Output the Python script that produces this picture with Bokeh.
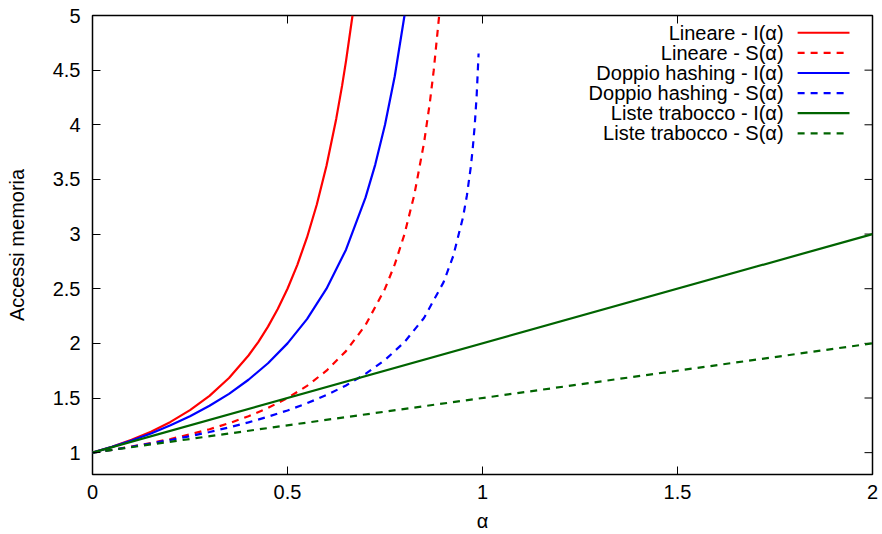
import math
from bokeh.plotting import figure
from bokeh.models import Label, FixedTicker, Range1d
from bokeh.embed import file_html
from bokeh.resources import INLINE

# ---- data ----
lin_I_a = [0, 0.05, 0.1, 0.15, 0.2, 0.25, 0.3, 0.35, 0.4, 0.425, 0.45, 0.475, 0.5, 0.525,
           0.55, 0.575, 0.6, 0.625, 0.64, 0.65, 0.6667]
lin_I_v = [1.0, 1.054, 1.117, 1.192, 1.281, 1.389, 1.520, 1.683, 1.889, 2.012, 2.153, 2.314,
           2.5, 2.716, 2.969, 3.268, 3.625, 4.056, 4.358, 4.582, 5.0]

lin_S_a = [0, 0.05, 0.1, 0.15, 0.2, 0.25, 0.3, 0.35, 0.4, 0.45, 0.5, 0.55, 0.6, 0.65, 0.7,
           0.75, 0.775, 0.8, 0.825, 0.85, 0.865, 0.875, 0.8889]
lin_S_v = [1.0, 1.026, 1.056, 1.088, 1.125, 1.167, 1.214, 1.269, 1.333, 1.409, 1.5, 1.611,
           1.75, 1.929, 2.167, 2.5, 2.722, 3.0, 3.357, 3.833, 4.204, 4.5, 5.0]

dh_I_a = [0, 0.05, 0.1, 0.15, 0.2, 0.25, 0.3, 0.35, 0.4, 0.45, 0.5, 0.55, 0.6, 0.65, 0.7,
          0.725, 0.75, 0.775, 0.8]
dh_I_v = [1.0, 1.053, 1.111, 1.176, 1.25, 1.333, 1.429, 1.538, 1.667, 1.818, 2.0, 2.222,
          2.5, 2.857, 3.333, 3.636, 4.0, 4.444, 5.0]

dh_S_a = [0, 0.05, 0.1, 0.15, 0.2, 0.25, 0.3, 0.35, 0.4, 0.45, 0.5, 0.55, 0.6, 0.65, 0.7,
          0.75, 0.8, 0.85, 0.9, 0.925, 0.95, 0.96, 0.97, 0.975, 0.98, 0.985, 0.99]
dh_S_v = [1.0, 1.026, 1.054, 1.084, 1.116, 1.151, 1.189, 1.231, 1.277, 1.329, 1.386, 1.452,
          1.527, 1.615, 1.720, 1.848, 2.012, 2.232, 2.558, 2.800, 3.153, 3.353, 3.615, 3.784,
          3.992, 4.264, 4.652]

lt_I_a = [0, 2]
lt_I_v = [1.0, 3.0]
lt_S_a = [0, 2]
lt_S_v = [1.0, 2.0]

x_ticks = [0, 0.5, 1, 1.5, 2]
x_tick_labels = ["0", "0.5", "1", "1.5", "2"]
y_ticks = [1, 1.5, 2, 2.5, 3, 3.5, 4, 4.5, 5]
y_tick_labels = ["1", "1.5", "2", "2.5", "3", "3.5", "4", "4.5", "5"]

series_names = ["Lineare - I(α)", "Lineare - S(α)", "Doppio hashing - I(α)",
                "Doppio hashing - S(α)", "Liste trabocco - I(α)", "Liste trabocco - S(α)"]

# ---- styles ----
RED, BLUE, GREEN = "#ff0000", "#0000ff", "#006400"
DASH = "7 6"
FONT = "Liberation Sans"
FS = "20px"
X_MIN, X_MAX, Y_MIN, Y_MAX = 0, 2, 0.8, 5
TICK = 8

p = figure(width=880, height=534, output_backend="svg", toolbar_location=None,
           x_range=Range1d(X_MIN, X_MAX), y_range=Range1d(Y_MIN, Y_MAX),
           min_border_left=92, min_border_right=8, min_border_top=15, min_border_bottom=60)
p.grid.visible = False
p.outline_line_color = "black"
p.outline_line_width = 1.5
p.background_fill_color = "white"
p.border_fill_color = "white"

def style_axis(ax, ticks, labels):
    ax.ticker = FixedTicker(ticks=ticks)
    ax.major_label_overrides = {t: l for t, l in zip(ticks, labels)}
    ax.major_tick_in = TICK
    ax.major_tick_out = 0
    ax.minor_tick_line_color = None
    ax.axis_line_color = None
    ax.major_tick_line_color = "black"
    ax.major_tick_line_width = 1
    ax.major_label_text_font = FONT
    ax.major_label_text_font_size = FS
    ax.major_label_text_color = "black"
    ax.axis_label_text_font = FONT
    ax.axis_label_text_font_size = FS
    ax.axis_label_text_font_style = "normal"
    ax.axis_label_text_color = "black"

style_axis(p.xaxis[0], x_ticks, x_tick_labels)
style_axis(p.yaxis[0], y_ticks, y_tick_labels)
p.xaxis[0].axis_label = "α"
p.yaxis[0].axis_label = "Accessi memoria"
p.xaxis[0].major_label_standoff = 10
p.yaxis[0].major_label_standoff = 12
p.xaxis[0].axis_label_standoff = 8
p.yaxis[0].axis_label_standoff = 22

# mirrored inward ticks on the top and right borders (half of each dash is clipped by the frame)
p.scatter(x=x_ticks, y=[Y_MAX] * len(x_ticks), marker="dash", size=2 * TICK,
          angle=math.pi / 2, line_color="black", line_width=1)
p.scatter(x=[X_MAX] * len(y_ticks), y=y_ticks, marker="dash", size=2 * TICK,
          line_color="black", line_width=1)

LW = 2.2
p.line(lin_I_a, lin_I_v, line_color=RED, line_width=LW)
p.line(lin_S_a, lin_S_v, line_color=RED, line_width=LW, line_dash=DASH)
p.line(dh_I_a, dh_I_v, line_color=BLUE, line_width=LW)
p.line(dh_S_a, dh_S_v, line_color=BLUE, line_width=LW, line_dash=DASH)
p.line(lt_I_a, lt_I_v, line_color=GREEN, line_width=LW)
p.line(lt_S_a, lt_S_v, line_color=GREEN, line_width=LW, line_dash=DASH)

# ---- legend (gnuplot style: text on the left, sample on the right) ----
leg_styles = [(RED, "solid"), (RED, DASH), (BLUE, "solid"), (BLUE, DASH),
              (GREEN, "solid"), (GREEN, DASH)]
LEG_TEXT_X = 1.772
LEG_L0, LEG_L1 = 1.808, 1.941
LEG_Y0, LEG_DY = 4.842, 0.184
for i, (name, (col, dash)) in enumerate(zip(series_names, leg_styles)):
    yy = LEG_Y0 - i * LEG_DY
    p.add_layout(Label(x=LEG_TEXT_X, y=yy, text=name, text_align="right",
                       text_baseline="middle", text_font=FONT, text_font_size=FS,
                       text_color="black"))
    p.line([LEG_L0, LEG_L1], [yy, yy], line_color=col, line_width=LW, line_dash=dash)

open("out.html", "w").write(file_html(p, INLINE))
